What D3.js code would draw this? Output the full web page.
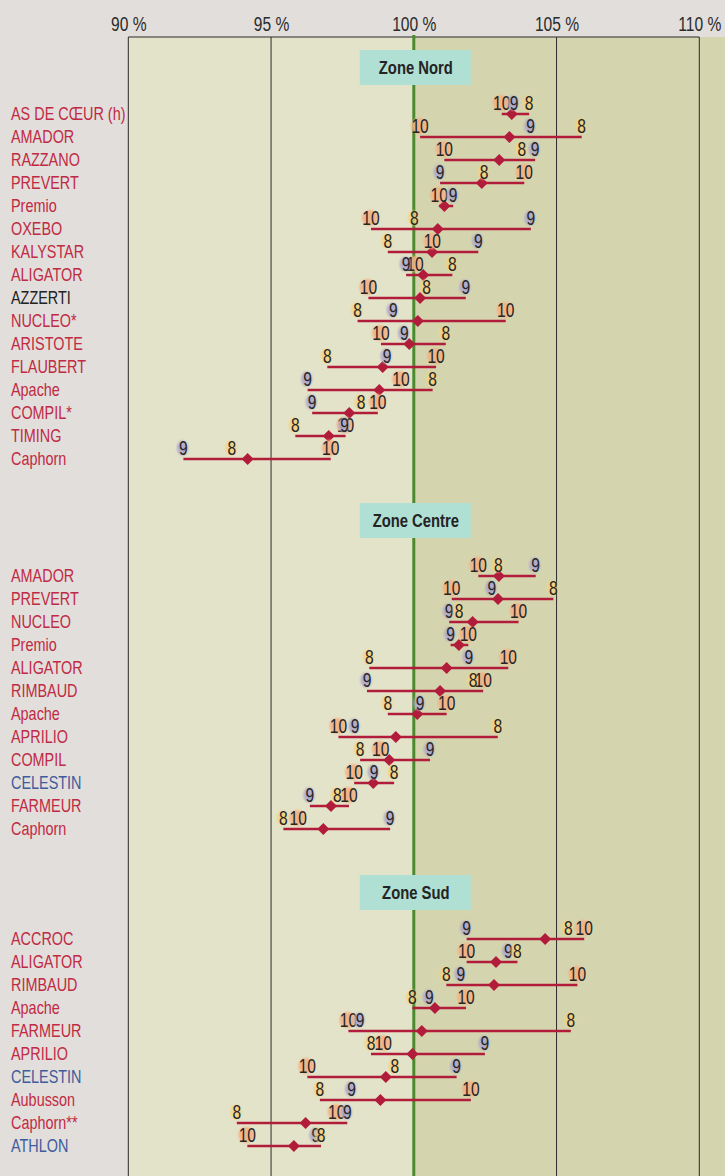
<!DOCTYPE html>
<html>
<head>
<meta charset="utf-8">
<script src="https://cdn.jsdelivr.net/npm/d3@7"></script>
<style>
  body { margin: 0; background: #e2dedb; }
  svg { display: block; }
  text { font-family: "Liberation Sans", Arial, sans-serif; }
</style>
</head>
<body>
<div id="chart"></div>
<script>
// rendement en % de la moyenne des témoins, par année d'essai (8, 9, 10)
const nordVarietes = ["AS DE CŒUR (h)", "AMADOR", "RAZZANO", "PREVERT", "Premio", "OXEBO", "KALYSTAR", "ALIGATOR",
  "AZZERTI", "NUCLEO*", "ARISTOTE", "FLAUBERT", "Apache", "COMPIL*", "TIMING", "Caphorn"];
const nord8 = [104.04, 105.88, 103.78, 102.46, null, 100.02, 99.09, 101.35, 100.45, 98.03, 101.12, 96.97, 100.66, 98.15, 95.85, 93.63];
const nord9 = [103.51, 104.09, 104.25, 100.92, 101.38, 104.10, 102.26, 99.73, 101.82, 99.28, 99.67, 99.06, 96.28, 96.44, 97.58, 91.93];
const nord10 = [103.08, 100.22, 101.07, 103.87, 100.89, 98.50, 100.65, 100.04, 98.41, 103.22, 98.85, 100.78, 99.55, 98.74, 97.61, 97.09];
const nordMoy = [103.43, 103.35, 102.99, 102.38, 101.07, 100.84, 100.64, 100.33, 100.22, 100.14, 99.84, 98.91, 98.79, 97.74, 97.02, 94.18];

const centreVarietes = ["AMADOR", "PREVERT", "NUCLEO", "Premio", "ALIGATOR", "RIMBAUD", "Apache", "APRILIO",
  "COMPIL", "CELESTIN", "FARMEUR", "Caphorn"];
const centre8 = [102.96, 104.89, 101.59, null, 98.44, 102.08, 99.09, 102.94, 98.12, 99.31, 97.32, 95.43];
const centre9 = [104.27, 102.73, 101.24, 101.29, 101.93, 98.36, 100.22, 97.94, 100.57, 98.61, 96.36, 99.17];
const centre10 = [102.26, 101.33, 103.67, 101.91, 103.31, 102.43, 101.15, 97.36, 98.84, 97.91, 97.73, 95.95];
const centreMoy = [102.98, 102.95, 102.06, 101.58, 101.15, 100.92, 100.12, 99.37, 99.14, 98.58, 97.10, 96.83];

const sudVarietes = ["ACCROC", "ALIGATOR", "RIMBAUD", "Apache", "FARMEUR", "APRILIO", "CELESTIN", "Aubusson",
  "Caphorn**", "ATHLON"];
const sud8 = [105.41, 103.63, 101.14, 99.95, 105.50, 98.50, 99.34, 96.71, 93.80, 96.75];
const sud9 = [101.85, 103.31, 101.65, 100.54, 98.12, 102.49, 101.50, 97.82, 97.67, 96.57];
const sud10 = [105.97, 101.85, 105.73, 101.83, 97.71, 98.93, 96.27, 102.00, 97.30, 94.17];
const sudMoy = [104.60, 102.88, 102.81, 100.74, 100.28, 99.95, 99.02, 98.83, 96.21, 95.80];

const zoneNoms = ["Zone Nord", "Zone Centre", "Zone Sud"];
const annees = ["10", "9", "8"];
const ticks = [90, 95, 100, 105, 110];

const WIDTH = 725, HEIGHT = 1176;
const PLOT_TOP = 37;
const ROW = 23;
const NARROW = "scale(0.8,1)";   // pas de police étroite installée : on comprime
// haut du cartouche de zone, y de la première ligne
const zoneBox = [50, 503, 875];
const zoneFirst = [114, 576, 939];

const RED = "#b21c3b";
const badge = { "8": "#f6d27c", "9": "#aea8cc", "10": "#f3b184" };
const labelColour = { "AZZERTI": "#222", "CELESTIN": "#3f5b9c", "ATHLON": "#3f5b9c" };

const zones = [
  { nom: zoneNoms[0], varietes: nordVarietes, v: { "8": nord8, "9": nord9, "10": nord10 }, moy: nordMoy },
  { nom: zoneNoms[1], varietes: centreVarietes, v: { "8": centre8, "9": centre9, "10": centre10 }, moy: centreMoy },
  { nom: zoneNoms[2], varietes: sudVarietes, v: { "8": sud8, "9": sud9, "10": sud10 }, moy: sudMoy }
];

const x = d3.scaleLinear().domain([90, 110]).range([128.3, 699.3]);

const svg = d3.select("#chart").append("svg")
  .attr("width", WIDTH)
  .attr("height", HEIGHT);

const defs = svg.append("defs");
defs.append("filter").attr("id", "soft")
  .append("feGaussianBlur").attr("stdDeviation", 0.8);

// fonds
svg.append("rect")
  .attr("x", x(90)).attr("y", PLOT_TOP)
  .attr("width", x(100) - x(90)).attr("height", HEIGHT - PLOT_TOP)
  .attr("fill", "#e3e3c9");
svg.append("rect")
  .attr("x", x(100)).attr("y", PLOT_TOP)
  .attr("width", WIDTH - x(100)).attr("height", HEIGHT - PLOT_TOP)
  .attr("fill", "#d4d5af");

// grille
svg.selectAll(".grid")
  .data(ticks.filter(d => d != 100))
  .enter().append("line")
  .attr("class", "grid")
  .attr("x1", d => x(d)).attr("x2", d => x(d))
  .attr("y1", PLOT_TOP).attr("y2", HEIGHT)
  .attr("stroke", "#2a2a2a").attr("stroke-width", 1);
svg.append("line")
  .attr("x1", x(90)).attr("x2", x(110))
  .attr("y1", PLOT_TOP).attr("y2", PLOT_TOP)
  .attr("stroke", "#2a2a2a").attr("stroke-width", 1);
svg.append("line")
  .attr("x1", x(100)).attr("x2", x(100))
  .attr("y1", PLOT_TOP - 2).attr("y2", HEIGHT)
  .attr("stroke", "#4b8a2e").attr("stroke-width", 3);

// axe du haut
const axis = svg.append("g")
  .attr("transform", "translate(0," + (PLOT_TOP - 6) + ")")
  .call(d3.axisTop(x).tickValues(ticks).tickSize(0).tickPadding(0).tickFormat(d => d + " %"));
axis.select(".domain").remove();
axis.selectAll("text")
  .attr("dy", 0)
  .attr("transform", NARROW)
  .style("font-size", "19.5px")
  .style("font-family", "\"Liberation Sans\", Arial, sans-serif")
  .attr("fill", "#2b2b2b");

zones.forEach(function(z, zi) {
  const n = z.varietes.length;
  const y = d3.scalePoint()
    .domain(d3.range(n))
    .range([zoneFirst[zi], zoneFirst[zi] + (n - 1) * ROW]);

  // cartouche
  const g = svg.append("g");
  g.append("rect")
    .attr("x", x(100) - 54).attr("y", zoneBox[zi])
    .attr("width", 111).attr("height", 35)
    .attr("fill", "#b0dfd4");
  g.append("text")
    .attr("transform", "translate(" + (x(100) + 2) + "," + (zoneBox[zi] + 23.5) + ") " + NARROW)
    .attr("text-anchor", "middle")
    .style("font-size", "18.5px").style("font-weight", "bold")
    .attr("fill", "#242424")
    .text(z.nom);

  const rows = z.varietes.map(function(name, i) {
    const vals = annees.map(a => ({ an: a, v: z.v[a][i] })).filter(d => d.v != null);
    return { name: name, i: i, vals: vals, moy: z.moy[i] };
  });

  // noms des variétés
  g.selectAll(".lab")
    .data(rows)
    .enter().append("text")
    .attr("class", "lab")
    .attr("transform", d => "translate(11," + (y(d.i) + 5.5) + ") scale(0.81,1)")
    .style("font-size", "17.8px")
    .attr("fill", d => labelColour[d.name] || "#c02a44")
    .text(d => d.name);

  // étendue
  g.selectAll(".range")
    .data(rows)
    .enter().append("line")
    .attr("class", "range")
    .attr("x1", d => x(d3.min(d.vals, v => v.v)))
    .attr("x2", d => x(d3.max(d.vals, v => v.v)))
    .attr("y1", d => y(d.i)).attr("y2", d => y(d.i))
    .attr("stroke", RED).attr("stroke-width", 2.5);

  // moyenne
  g.selectAll(".moy")
    .data(rows)
    .enter().append("path")
    .attr("class", "moy")
    .attr("d", d3.symbol(d3.symbolSquare, 72))
    .attr("transform", d => "translate(" + x(d.moy) + "," + y(d.i) + ") rotate(45)")
    .attr("fill", RED);

  // années
  const pts = g.selectAll(".an")
    .data(rows.flatMap(r => r.vals.map(v => ({ an: v.an, v: v.v, i: r.i }))))
    .enter().append("g")
    .attr("class", "an")
    .attr("transform", d => "translate(" + x(d.v) + "," + (y(d.i) - 11) + ")");

  pts.append("ellipse")
    .attr("cx", -1)
    .attr("cy", 0)
    .attr("rx", d => d.an == "10" ? 8 : 5.5)
    .attr("ry", d => d.an == "10" ? 8 : 7.5)
    .attr("fill", d => badge[d.an])
    .attr("opacity", d => d.an == "8" ? 0.8 : 0.9)
    .attr("filter", "url(#soft)");

  pts.append("text")
    .attr("text-anchor", "middle")
    .attr("y", 7)
    .attr("transform", NARROW)
    .style("font-size", "19.5px")
    .attr("fill", "#262626")
    .text(d => d.an);
});
</script>
</body>
</html>
